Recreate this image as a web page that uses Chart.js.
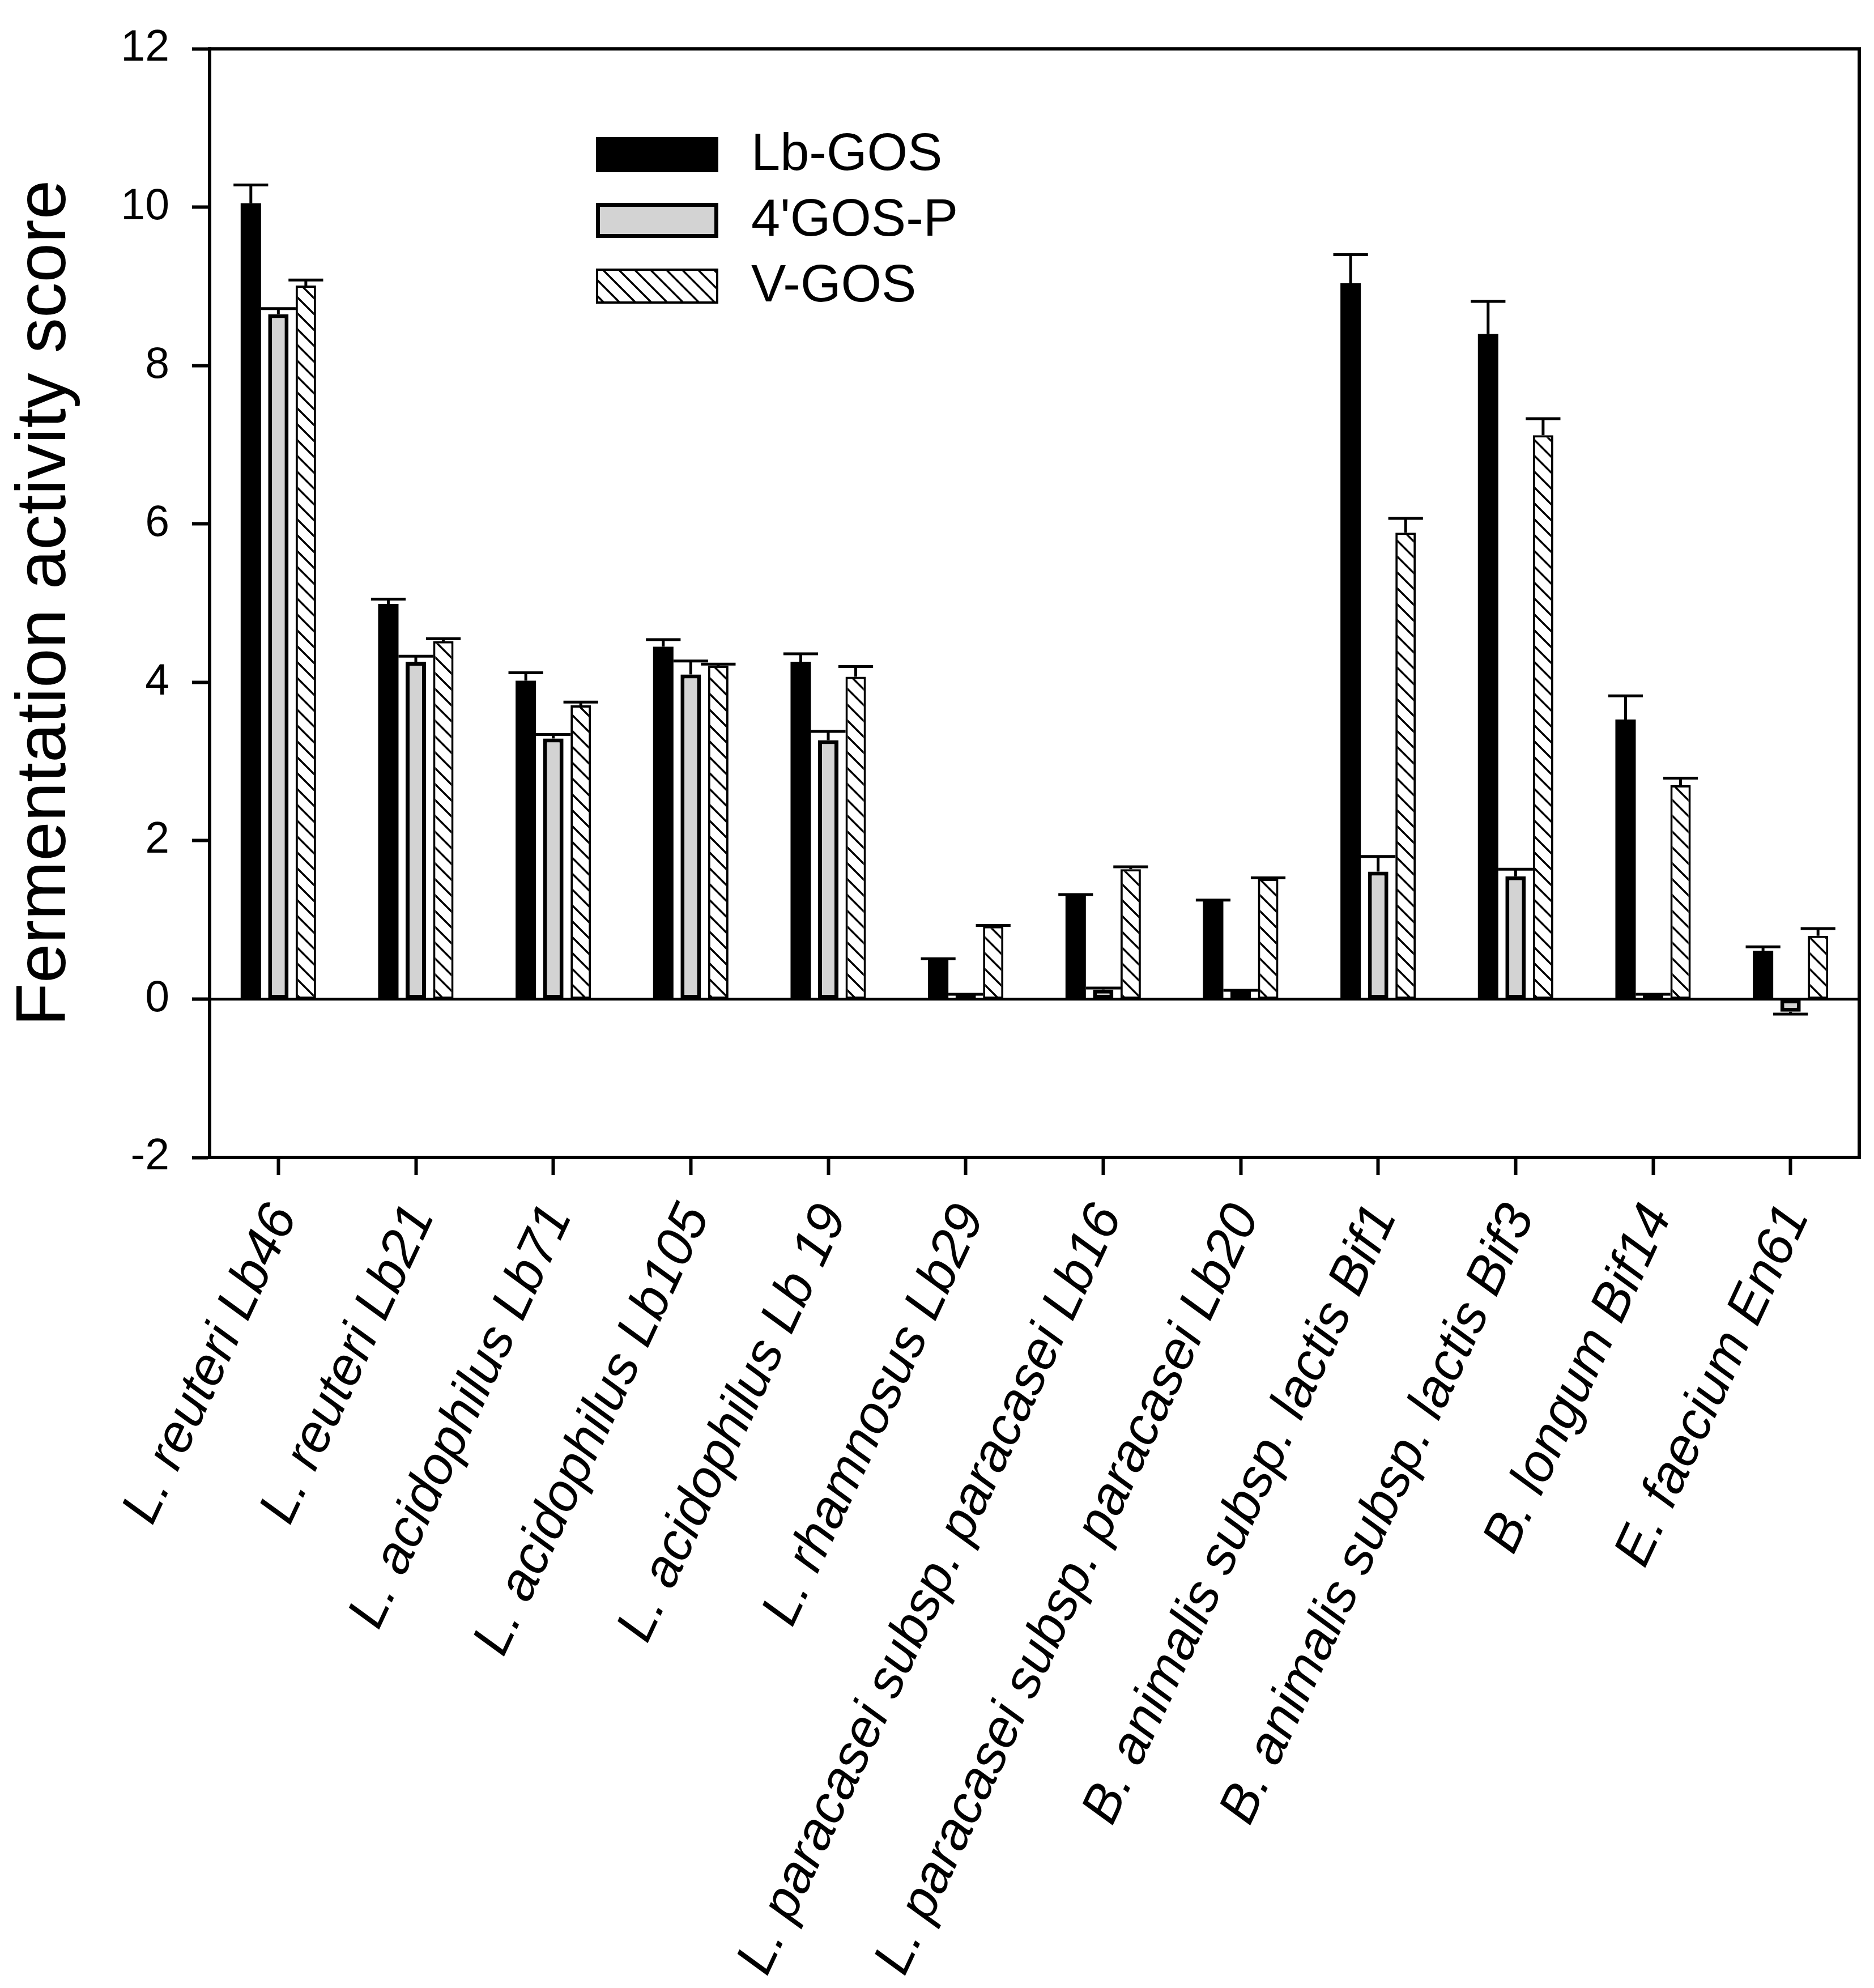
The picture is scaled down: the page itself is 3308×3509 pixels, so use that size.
<!DOCTYPE html>
<html>
<head>
<meta charset="utf-8">
<script src="https://cdn.jsdelivr.net/npm/chart.js@4.4.1/dist/chart.umd.min.js"></script>
<style>
  html, body { margin: 0; padding: 0; background: #fff; }
  canvas { display: block; }
</style>
</head>
<body>
<canvas id="chart" width="3308" height="3509"></canvas>
<script>
// Strains (x categories)
const strains = [
  'L. reuteri Lb46',
  'L. reuteri Lb21',
  'L. acidophilus Lb71',
  'L. acidophilus Lb105',
  'L. acidophilus Lb 19',
  'L. rhamnosus Lb29',
  'L. paracasei subsp. paracasei Lb16',
  'L. paracasei subsp. paracasei Lb20',
  'B. animalis subsp. lactis Bif1',
  'B. animalis subsp. lactis Bif3',
  'B. longum Bif14',
  'E. faecium En61'
];

const seriesNames = ['Lb-GOS', "4'GOS-P", 'V-GOS'];

// Fermentation activity scores
const lbGos      = [10.05, 4.99, 4.02, 4.45, 4.26, 0.50, 1.31, 1.24, 9.04, 8.40, 3.53, 0.61];
const lbGosErr   = [0.23, 0.06, 0.10, 0.09, 0.10, 0.01, 0.01, 0.01, 0.36, 0.41, 0.30, 0.05];
const gosP       = [8.65, 4.26, 3.29, 4.10, 3.27, 0.05, 0.12, 0.10, 1.61, 1.55, 0.05, -0.16];
const gosPErr    = [0.07, 0.07, 0.05, 0.17, 0.11, 0.01, 0.02, 0.01, 0.19, 0.09, 0.01, 0.03];
const vGos       = [9.01, 4.52, 3.71, 4.21, 4.07, 0.92, 1.64, 1.52, 5.89, 7.12, 2.70, 0.80];
const vGosErr    = [0.07, 0.03, 0.04, 0.02, 0.13, 0.01, 0.03, 0.01, 0.18, 0.21, 0.09, 0.09];

const yTicks = [-2, 0, 2, 4, 6, 8, 10, 12];

const FONT = '"Liberation Sans", Arial, sans-serif';

// Diagonal hatch ("\\\\") fill used for V-GOS
function makeHatch() {
  const s = 28;
  const c = document.createElement('canvas');
  c.width = s; c.height = s;
  const g = c.getContext('2d');
  g.fillStyle = '#fff';
  g.fillRect(0, 0, s, s);
  g.strokeStyle = '#000';
  g.lineWidth = 3.5;
  g.beginPath();
  g.moveTo(-4, -4); g.lineTo(s + 4, s + 4);
  g.moveTo(s - 4, -4); g.lineTo(s + 4, 4);
  g.moveTo(-4, s - 4); g.lineTo(4, s + 4);
  g.stroke();
  return g.createPattern(c, 'repeat');
}
const hatch = makeHatch();

// Zero line + error bars, drawn away from zero
const errorBars = {
  id: 'errorBars',
  afterDatasetsDraw(chart) {
    const { ctx, scales: { y }, chartArea } = chart;
    ctx.save();
    ctx.strokeStyle = '#000';
    ctx.lineWidth = 5;
    const y0 = y.getPixelForValue(0);
    ctx.beginPath();
    ctx.moveTo(chartArea.left, y0);
    ctx.lineTo(chartArea.right, y0);
    ctx.stroke();

    chart.data.datasets.forEach((ds, di) => {
      const meta = chart.getDatasetMeta(di);
      meta.data.forEach((bar, i) => {
        const v = ds.data[i];
        const e = ds.errors[i];
        const end = v + (v < 0 ? -e : e);
        const py0 = y.getPixelForValue(v);
        const py1 = y.getPixelForValue(end);
        const half = bar.width * 0.85;
        ctx.beginPath();
        ctx.moveTo(bar.x, py0);
        ctx.lineTo(bar.x, py1);
        ctx.moveTo(bar.x - half, py1);
        ctx.lineTo(bar.x + half, py1);
        ctx.stroke();
      });
    });
    ctx.restore();
  }
};

// Top and right sides of the frame
const frame = {
  id: 'frame',
  afterDraw(chart) {
    const { ctx, chartArea: a } = chart;
    ctx.save();
    ctx.strokeStyle = '#000';
    ctx.lineWidth = 6;
    ctx.beginPath();
    ctx.moveTo(a.left - 3, a.top);
    ctx.lineTo(a.right, a.top);
    ctx.lineTo(a.right, a.bottom + 3);
    ctx.stroke();
    ctx.restore();
  }
};

// Legend inside the plot
const boxLegend = {
  id: 'boxLegend',
  afterDraw(chart) {
    const ctx = chart.ctx;
    const rows = [273, 389, 505];
    const bx = 1052, bw = 216, bh = 62, tx = 1326;
    ctx.save();
    chart.data.datasets.forEach((ds, i) => {
      const top = rows[i] - bh / 2;
      const bwid = ds.borderWidth || 0;
      ctx.fillStyle = '#000';
      ctx.fillRect(bx, top, bw, bh);
      ctx.fillStyle = ds.backgroundColor;
      ctx.fillRect(bx + bwid, top + bwid, bw - 2 * bwid, bh - 2 * bwid);
      ctx.fillStyle = '#000';
      ctx.font = '92px ' + FONT;
      ctx.textBaseline = 'middle';
      ctx.textAlign = 'left';
      ctx.fillText(ds.label, tx, rows[i] + 2);
    });
    ctx.restore();
  }
};

new Chart(document.getElementById('chart'), {
  type: 'bar',
  data: {
    labels: strains,
    datasets: [
      { label: seriesNames[0], data: lbGos, errors: lbGosErr, backgroundColor: '#000', borderColor: '#000', borderWidth: 0 },
      { label: seriesNames[1], data: gosP, errors: gosPErr, backgroundColor: '#d3d3d3', borderColor: '#000', borderWidth: 7 },
      { label: seriesNames[2], data: vGos, errors: vGosErr, backgroundColor: hatch, borderColor: '#000', borderWidth: 4 }
    ]
  },
  options: {
    responsive: false,
    animation: false,
    devicePixelRatio: 1,
    layout: { padding: { top: 72, right: 26, left: 0, bottom: 0 } },
    datasets: {
      bar: { categoryPercentage: 0.6, barPercentage: 0.742, borderSkipped: false }
    },
    plugins: {
      legend: { display: false },
      tooltip: { enabled: false }
    },
    scales: {
      x: {
        grid: { offset: false, drawOnChartArea: false, tickLength: 31, tickWidth: 6, tickColor: '#000' },
        border: { color: '#000', width: 6 },
        ticks: {
          autoSkip: false,
          minRotation: 65,
          maxRotation: 65,
          padding: 36,
          labelOffset: 10,
          color: '#000',
          font: { family: FONT, size: 94, style: 'italic' }
        },
        afterFit(s) { s.height = 3509 - 2043; }
      },
      y: {
        min: -2,
        max: 12,
        afterBuildTicks(s) { s.ticks = yTicks.map(v => ({ value: v })); },
        grid: { drawOnChartArea: false, tickLength: 31, tickWidth: 6, tickColor: '#000' },
        border: { color: '#000', width: 6 },
        ticks: {
          padding: 40,
          color: '#000',
          font: { family: FONT, size: 77 }
        },
        title: {
          display: true,
          text: 'Fermentation activity score',
          color: '#000',
          padding: { top: 6, bottom: 0 },
          font: { family: FONT, size: 125 }
        },
        afterFit(s) { s.width = 370; }
      }
    }
  },
  plugins: [errorBars, frame, boxLegend]
});
</script>
</body>
</html>
